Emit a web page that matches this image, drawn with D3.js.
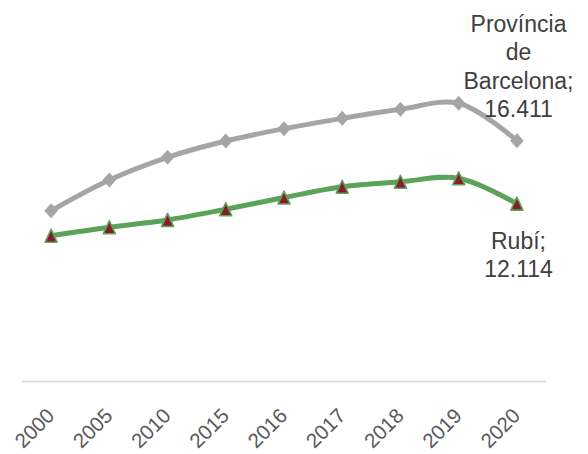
<!DOCTYPE html>
<html><head><meta charset="utf-8">
<script src="https://cdn.jsdelivr.net/npm/d3@7"></script>
<style>body{margin:0;background:#fff}svg{display:block}</style>
</head><body>
<svg id="c" width="588" height="454"></svg>
<script>
const years = ["2000","2005","2010","2015","2016","2017","2018","2019","2020"];
const provincia = [11.63,13.73,15.28,16.39,17.23,17.94,18.56,18.97,16.411];
const rubi = [9.92,10.50,11.00,11.73,12.53,13.27,13.61,13.85,12.114];
const seriesNames = ["Província de Barcelona","Rubí"];
const labelProv = ["Província","de","Barcelona;","16.411"];
const labelRubi = ["Rubí;","12.114"];

const svg = d3.select("#c");
const x = d3.scaleBand().domain(years).range([22,546]);
const y = d3.scaleLinear().domain([0,25]).range([381,15]);
const cx = d => x(d) + x.bandwidth()/2;
const font = "Liberation Sans, Arial, sans-serif";

svg.append("line").attr("x1",22).attr("x2",546).attr("y1",381.5).attr("y2",381.5)
  .attr("stroke","#d9d9d9").attr("stroke-width",1.5);

svg.append("g").selectAll("text").data(years).join("text")
  .attr("transform", d => `translate(${cx(d)+4.5},${417}) rotate(-45)`)
  .attr("text-anchor","end")
  .attr("font-family",font).attr("font-size",20.5)
  .attr("fill","#595959").text(d => d);

const line = d3.line().x((d,i)=>cx(years[i])).y(d=>y(d)).curve(d3.curveCatmullRom.alpha(0.5));

svg.append("path").datum(provincia).attr("d",line).attr("fill","none")
  .attr("stroke","#a5a5a5").attr("stroke-width",5);
svg.append("path").datum(rubi).attr("d",line).attr("fill","none")
  .attr("stroke","#5ba35b").attr("stroke-width",5);

svg.append("g").selectAll("path").data(provincia).join("path")
  .attr("transform",(d,i)=>`translate(${cx(years[i])},${y(d)})`)
  .attr("d","M0,-7.5L6.8,0L0,7.5L-6.8,0Z").attr("fill","#a5a5a5");

svg.append("g").selectAll("path").data(rubi).join("path")
  .attr("transform",(d,i)=>`translate(${cx(years[i])},${y(d)})`)
  .attr("d","M0,-6.5L6,6.5L-6,6.5Z").attr("fill","#8b1a2b")
  .attr("stroke","#5ba35b").attr("stroke-width",1.6).attr("stroke-linejoin","round");

const lx = 518.5;
svg.append("g").selectAll("text").data(labelProv).join("text")
  .attr("x",lx).attr("y",(d,i)=>31.5+i*28.5).attr("text-anchor","middle")
  .attr("font-family",font).attr("font-size",23)
  .attr("fill","#404040").text(d=>d);
svg.append("g").selectAll("text").data(labelRubi).join("text")
  .attr("x",lx).attr("y",(d,i)=>248.5+i*28.5).attr("text-anchor","middle")
  .attr("font-family",font).attr("font-size",23)
  .attr("fill","#404040").text(d=>d);
</script>
</body></html>
